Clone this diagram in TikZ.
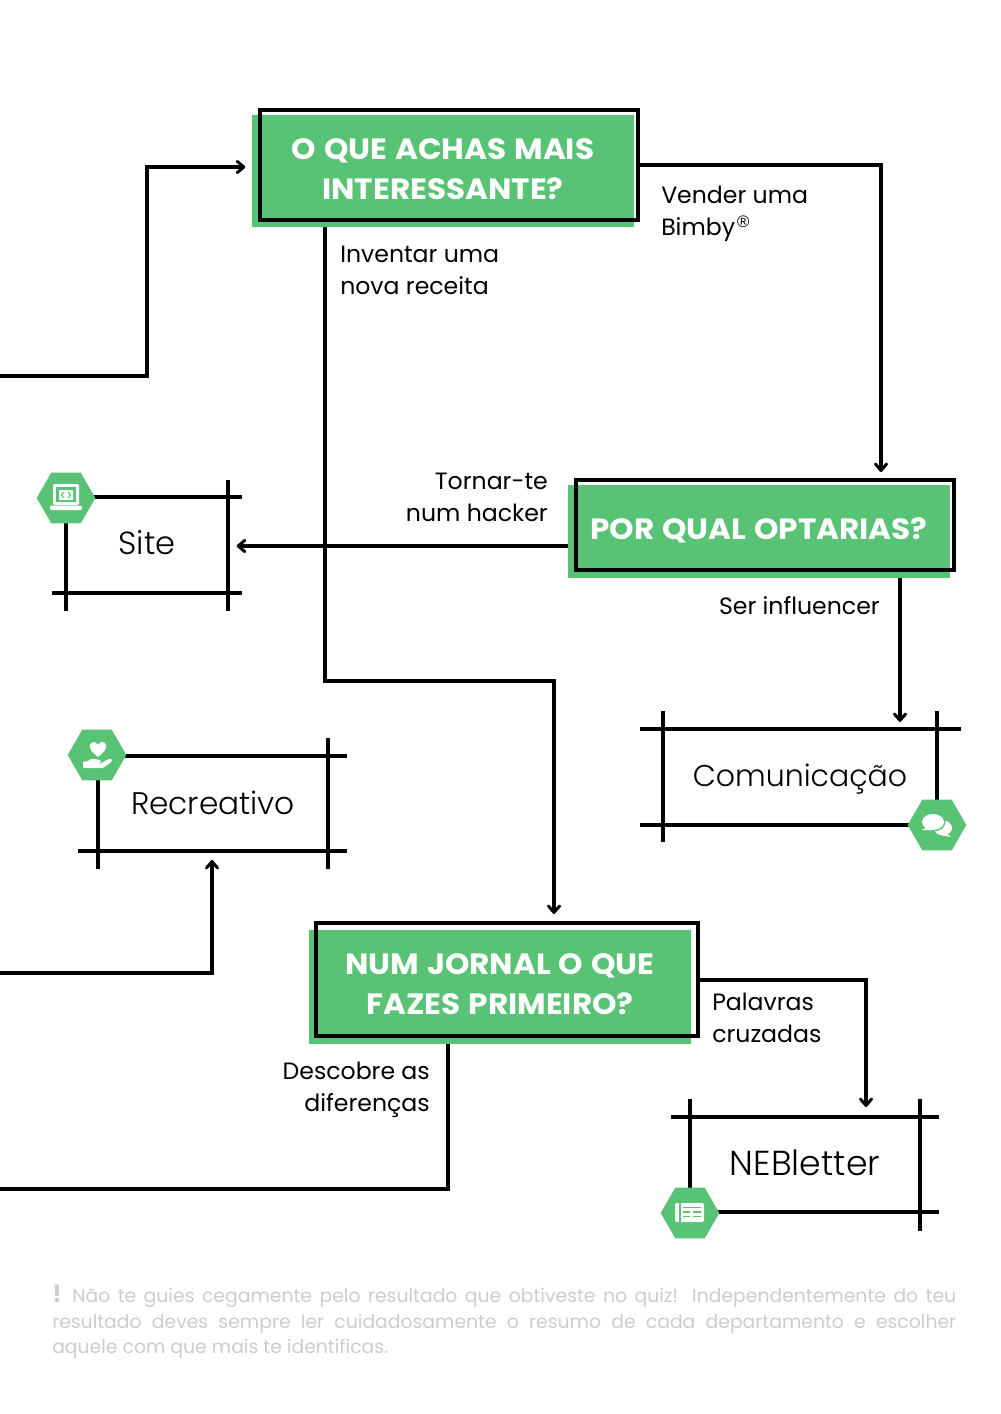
\documentclass[tikz,border=0pt]{standalone}
\usepackage{fontspec}
\setmainfont{Poppins}
\newfontfamily\titlefont[FakeStretch=1.06,WordSpace=1.2]{Poppins}
\newfontfamily\lightfont[UprightFont=* Light]{Poppins}
\newfontfamily\regfont{Liberation Sans}
\usetikzlibrary{arrows.meta,shapes.geometric,calc}
\definecolor{nebgreen}{HTML}{58C375}
\definecolor{notegray}{HTML}{CCCCCC}
\tikzset{
  x=.75pt,y=-.75pt,
  flow/.style={line width=2.4pt,black,line join=miter},
  arrowed/.style={flow,-{Straight Barb[length=5pt,width=8.5pt,line width=2.2pt,round]}},
  frameline/.style={line width=2.4pt,black},
  greenbox/.style={fill=nebgreen,draw=none,minimum width=286.5pt,inner sep=0pt,outer sep=0pt},
  blackframe/.style={draw=black,line width=2.3pt,fill=none,inner sep=0pt,outer sep=0pt},
  titletext/.style={text=white,font=\fontsize{22}{29.6}\titlefont\bfseries,align=center,inner sep=0pt},
  boxtext/.style={inner sep=0pt,outer sep=0pt,text=black},
  lab/.style={font=\fontsize{17.7}{24}\selectfont,inner sep=0pt,text=black},
  hexa/.style={regular polygon,regular polygon sides=6,fill=nebgreen,draw=none,minimum size=44pt,inner sep=0pt,outer sep=0pt},
}
\begin{document}
\begin{tikzpicture}
\useasboundingbox (0,0) rectangle (1000,1414);
% free ends
\coordinate (startA) at (0,376);
\coordinate (startB) at (0,973);
\coordinate (endC) at (0,1189);
% decision boxes
\node[greenbox,minimum height=84pt] (q1g) at (443,171) {};
\node[blackframe,minimum width=283.5pt,minimum height=82.5pt] (q1f) at (449,165) {};
\node[titletext] (q1t) at (443,169) {O QUE ACHAS MAIS\\INTERESSANTE?};
\node[greenbox,minimum height=69.75pt] (q2g) at (759,531.5) {};
\node[blackframe,minimum width=283.5pt,minimum height=67.5pt] (q2f) at (765,525) {};
\node[titletext] (q2t) at (759,530) {POR QUAL OPTARIAS?};
\node[greenbox,minimum height=85.5pt] (q3g) at (500,987) {};
\node[blackframe,minimum width=286.5pt,minimum height=84.75pt] (q3f) at (507,979.5) {};
\node[titletext] (q3t) at (500,984) {NUM JORNAL O QUE\\FAZES PRIMEIRO?};
% result boxes
\node[boxtext,font=\fontsize{24}{30}\lightfont,minimum width=121.5pt,minimum height=72pt] (site) at (147,543) {Site};
\node[boxtext,font=\fontsize{23.4}{30}\lightfont,minimum width=172.5pt,minimum height=71.25pt] (recr) at (213,802.5) {Recreativo};
\node[boxtext,font=\fontsize{22.5}{30}\lightfont,minimum width=205.5pt,minimum height=72pt] (comu) at (800,779) {Comunicação};
\node[boxtext,font=\fontsize{26}{30}\lightfont,minimum width=172.5pt,minimum height=71.25pt] (nebl) at (805,1162.5) {NEBletter};
% frames of the result boxes
\draw[frameline] (66,497) -- (242,497) (52,593) -- (242,593) (66,497) -- (66,611) (228,480) -- (228,611);
\draw[frameline] (98,756) -- (347,756) (78,851) -- (347,851) (98,756) -- (98,869) (328,738) -- (328,869);
\draw[frameline] (640,729) -- (961,729) (640,825) -- (937,825) (663,711) -- (663,842) (937,711) -- (937,825);
\draw[frameline] (671,1117) -- (939,1117) (690,1212) -- (939,1212) (690,1099) -- (690,1212) (920,1099) -- (920,1231);
% connectors
\draw[arrowed,shorten >=5pt] (startA) -| (147,167) -- (q1g.west |- 0,167);
\draw[arrowed,shorten <=1.5pt] (q1f.east) -| (881,472);
\draw[arrowed] (q1g.south -| 325,0) |- (554,681) -- (554,914);
\draw[arrowed,shorten >=6.5pt] (q2g.west |- 0,546) -- (228,546);
\draw[arrowed,shorten >=5.25pt] (q2g.south -| 900,0) -- (900,729);
\draw[arrowed,shorten <=1.5pt] (q3f.east |- 0,980) -| (866,1107);
\draw[flow] (q3g.south -| 448,0) |- (endC);
\draw[arrowed,shorten >=6.75pt] (startB) -| (212,851);
% labels
\node[lab,align=left,anchor=north west] (l1) at (340,246) {Inventar uma\\nova receita};
\node[lab,align=left,anchor=north west] (l2) at (661,186) {Vender uma\\Bimby\hspace{1.5pt}\raisebox{6.5pt}{\fontsize{12.5}{12.5}\regfont ®}};
\node[lab,align=right,anchor=north east] (l3) at (548,473) {Tornar-te\\num hacker};
\node[lab,anchor=north east] (l4) at (880,596) {Ser influencer};
\node[lab,align=left,anchor=north west] (l5) at (712,993) {Palavras\\cruzadas};
\node[lab,align=right,anchor=north east] (l6) at (430,1062) {Descobre as\\diferenças};
% hexagons with icons
\node[hexa] (hsite) at (66,498) {};
\begin{scope}[shift={(hsite.center)}]
  \fill[white,rounded corners=1pt] (-13,-14) rectangle (13,7);
  \fill[nebgreen] (-10,-11) rectangle (10,4);
  \fill[white,rounded corners=.5pt] (-7,-8) rectangle (7,2);
  \draw[nebgreen,line width=.8pt] (-2,-6) -- (-4.5,-3) -- (-2,0) (2,-6) -- (4.5,-3) -- (2,0);
  \fill[white,rounded corners=1pt] (-16,7.5) rectangle (16,12);
\end{scope}
\node[hexa] (hrecr) at (97,755) {};
\begin{scope}[shift={(hrecr.center)}]
  \fill[white] (1,2) .. controls (-5,-3) and (-8,-6) .. (-7,-10) .. controls (-6,-14) and (-1,-14) .. (1,-10) .. controls (3,-14) and (8,-14) .. (9,-10) .. controls (10,-6) and (7,-3) .. (1,2) -- cycle;
  \fill[white] (-14,7) -- (-9,6) .. controls (-7,4) and (-4,3) .. (-2,4) -- (3,5) .. controls (5,6) and (4,8) .. (2,8) -- (-2,8) -- (3,8.5) -- (11,4.5) .. controls (14,3) and (16,5) .. (14,7) -- (6,13) -- (-9,13) -- (-14,13) -- cycle;
\end{scope}
\node[hexa] (hcomu) at (937,825) {};
\begin{scope}[shift={(hcomu.center)}]
  \fill[white] (6,3) ellipse [x radius=9,y radius=7.5];
  \fill[white] (9,8) -- (14,12) -- (4,10) -- cycle;
  \fill[nebgreen] (-4,-3) ellipse [x radius=12.5,y radius=9.5];
  \fill[white] (-4,-3) ellipse [x radius=11,y radius=8];
  \fill[white] (-10,2) -- (-15,5) -- (-5,5) -- cycle;
\end{scope}
\node[hexa] (hnebl) at (690,1213) {};
\begin{scope}[shift={(hnebl.center)}]
  \fill[white,rounded corners=1pt] (-15,-10) rectangle (14,9);
  \draw[nebgreen,line width=.9pt] (-10,-10) -- (-10,9);
  \draw[nebgreen,line width=1pt] (-7,-5.5) -- (11,-5.5) (-7,-1) -- (0,-1) (3,-1) -- (11,-1) (-7,3.5) -- (0,3.5) (3,3.5) -- (11,3.5);
\end{scope}
% note
\node[inner sep=0pt,anchor=north west,text=notegray,font=\fontsize{14.1}{19.1}\selectfont,text width=678pt,align=justify] (note) at (52,1285)
{{\fontsize{18}{19.1}\selectfont\bfseries !}\hspace{8pt}Não te guies cegamente pelo resultado que obtiveste no quiz! Independentemente do teu\linebreak[4] resultado deves sempre ler cuidadosamente o resumo de cada departamento e escolher\linebreak[4] aquele com que mais te identificas.};
\end{tikzpicture}
\end{document}
